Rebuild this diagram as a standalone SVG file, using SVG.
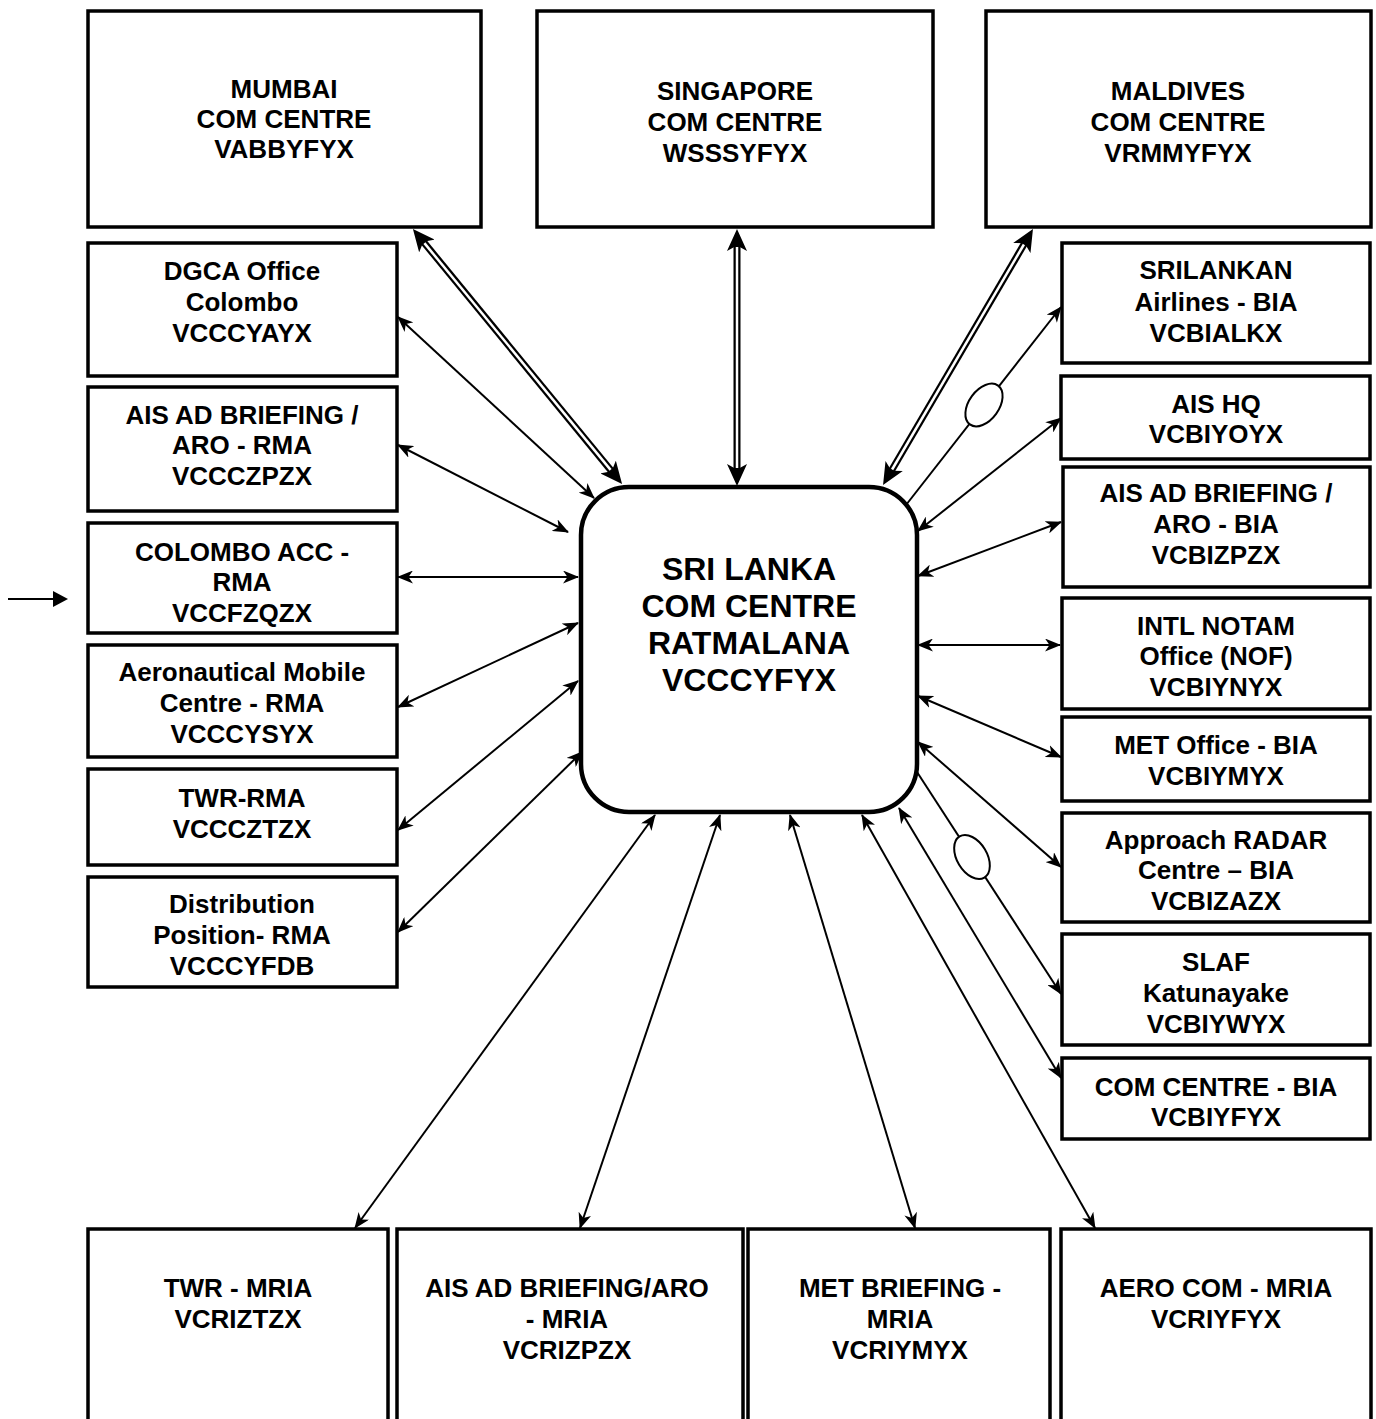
<svg xmlns="http://www.w3.org/2000/svg" width="1376" height="1419" viewBox="0 0 1376 1419">
<style>
.box{fill:#fff;stroke:#000;stroke-width:3.5}
.ctr{fill:#fff;stroke:#000;stroke-width:4.5}
text{font-family:"Liberation Sans",Arial,sans-serif;font-weight:bold;font-size:26px;text-anchor:middle;fill:#000}
.big{font-size:32px}
.ln{fill:none;stroke:#000;stroke-width:2}
.a2{marker-start:url(#ah);marker-end:url(#ah)}
.a1{marker-end:url(#ah)}
.dbl{fill:none;stroke:#000;stroke-width:7;marker-start:url(#dh);marker-end:url(#dh)}
.dblw{fill:none;stroke:#fff;stroke-width:2.5}
.ell{fill:#fff;stroke:#000;stroke-width:2}
</style>
<defs>
<marker id="ah" viewBox="0 0 16 13" refX="15" refY="6.5" markerWidth="16" markerHeight="13" markerUnits="userSpaceOnUse" orient="auto-start-reverse"><path d="M0,0 L16,6.5 L0,13 L4.5,6.5 z" fill="#000"/></marker>
<marker id="dh" viewBox="0 0 22 20" refX="11" refY="10" markerWidth="22" markerHeight="20" markerUnits="userSpaceOnUse" orient="auto-start-reverse"><path d="M0,0 L22,10 L0,20 L5.5,10 z" fill="#000"/></marker>
<marker id="tri" viewBox="0 0 15 16" refX="0" refY="8" markerWidth="15" markerHeight="16" markerUnits="userSpaceOnUse" orient="auto"><path d="M0,0 L15,8 L0,16 z" fill="#000"/></marker>
</defs>
<rect width="1376" height="1419" fill="#fff"/>

<g id="connectors">
<path class="ln a2" d="M594,498 L398,317"/>
<path class="ln a2" d="M568,532 L398,445"/>
<path class="ln a2" d="M578,577 L398,577"/>
<path class="ln a2" d="M578,623 L398,707"/>
<path class="ln a2" d="M578,681 L398,830"/>
<path class="ln a2" d="M582,752 L398,932"/>
<path class="ln a1" d="M906,505 L1061,307"/>
<ellipse class="ell" cx="984" cy="405" rx="15" ry="24" transform="rotate(36 984 405)"/>
<path class="ln a2" d="M918,531 L1061,418"/>
<path class="ln a2" d="M918,576 L1061,522"/>
<path class="ln a2" d="M918,645 L1060,645"/>
<path class="ln a2" d="M918,696 L1061,757"/>
<path class="ln a2" d="M918,742 L1061,867"/>
<path class="ln a1" d="M917,772 L1061,994"/>
<ellipse class="ell" cx="972" cy="857" rx="15" ry="24" transform="rotate(-31 972 857)"/>
<path class="ln a2" d="M899,808 L1061,1078"/>
<path class="ln a2" d="M655,815 L355,1228"/>
<path class="ln a2" d="M720,815 L580,1228"/>
<path class="ln a2" d="M790,815 L915,1228"/>
<path class="ln a2" d="M862,815 L1095,1228"/>
<path class="dbl" d="M615.1,475.5 L419.9,237.5"/>
<path class="dblw" d="M610.6,469.9 L424.4,243.1"/>
<path class="dbl" d="M737,475 L737,240"/>
<path class="dblw" d="M737,468 L737,247"/>
<path class="dbl" d="M888.6,475.5 L1027.4,238.5"/>
<path class="dblw" d="M892.1,469.5 L1023.9,244.5"/>
<path class="ln" d="M8,599 L53,599" marker-end="url(#tri)"/>
</g>

<g id="mumbai"><rect class="box" x="88" y="11" width="393" height="216"/>
<text x="284" y="98">MUMBAI</text><text x="284" y="128">COM CENTRE</text><text x="284" y="158">VABBYFYX</text></g>
<g id="singapore"><rect class="box" x="537" y="11" width="396" height="216"/>
<text x="735" y="100">SINGAPORE</text><text x="735" y="131">COM CENTRE</text><text x="735" y="162">WSSSYFYX</text></g>
<g id="maldives"><rect class="box" x="986" y="11" width="385" height="216"/>
<text x="1178" y="100">MALDIVES</text><text x="1178" y="131">COM CENTRE</text><text x="1178" y="162">VRMMYFYX</text></g>

<g id="dgca"><rect class="box" x="88" y="243" width="309" height="133"/>
<text x="242" y="280">DGCA Office</text><text x="242" y="311">Colombo</text><text x="242" y="342">VCCCYAYX</text></g>
<g id="ais-rma"><rect class="box" x="88" y="387" width="309" height="124"/>
<text x="242" y="424">AIS AD BRIEFING /</text><text x="242" y="454">ARO - RMA</text><text x="242" y="485">VCCCZPZX</text></g>
<g id="acc-rma"><rect class="box" x="88" y="523" width="309" height="110"/>
<text x="242" y="561">COLOMBO ACC -</text><text x="242" y="591">RMA</text><text x="242" y="622">VCCFZQZX</text></g>
<g id="amc-rma"><rect class="box" x="88" y="645" width="309" height="112"/>
<text x="242" y="681">Aeronautical Mobile</text><text x="242" y="712">Centre - RMA</text><text x="242" y="743">VCCCYSYX</text></g>
<g id="twr-rma"><rect class="box" x="88" y="769" width="309" height="96"/>
<text x="242" y="807">TWR-RMA</text><text x="242" y="838">VCCCZTZX</text></g>
<g id="dist-rma"><rect class="box" x="88" y="877" width="309" height="110"/>
<text x="242" y="913">Distribution</text><text x="242" y="944">Position- RMA</text><text x="242" y="975">VCCCYFDB</text></g>

<g id="srilankan"><rect class="box" x="1062" y="243" width="308" height="120"/>
<text x="1216" y="279">SRILANKAN</text><text x="1216" y="311">Airlines - BIA</text><text x="1216" y="342">VCBIALKX</text></g>
<g id="ais-hq"><rect class="box" x="1061" y="376" width="309" height="83"/>
<text x="1216" y="413">AIS HQ</text><text x="1216" y="443">VCBIYOYX</text></g>
<g id="ais-bia"><rect class="box" x="1063" y="467" width="307" height="120"/>
<text x="1216" y="502">AIS AD BRIEFING /</text><text x="1216" y="533">ARO - BIA</text><text x="1216" y="564">VCBIZPZX</text></g>
<g id="nof"><rect class="box" x="1062" y="598" width="308" height="111"/>
<text x="1216" y="635">INTL NOTAM</text><text x="1216" y="665">Office (NOF)</text><text x="1216" y="696">VCBIYNYX</text></g>
<g id="met-bia"><rect class="box" x="1062" y="717" width="308" height="84"/>
<text x="1216" y="754">MET Office - BIA</text><text x="1216" y="785">VCBIYMYX</text></g>
<g id="radar-bia"><rect class="box" x="1062" y="813" width="308" height="109"/>
<text x="1216" y="849">Approach RADAR</text><text x="1216" y="879">Centre – BIA</text><text x="1216" y="910">VCBIZAZX</text></g>
<g id="slaf"><rect class="box" x="1062" y="934" width="308" height="111"/>
<text x="1216" y="971">SLAF</text><text x="1216" y="1002">Katunayake</text><text x="1216" y="1033">VCBIYWYX</text></g>
<g id="com-bia"><rect class="box" x="1062" y="1058" width="308" height="81"/>
<text x="1216" y="1096">COM CENTRE - BIA</text><text x="1216" y="1126">VCBIYFYX</text></g>

<g id="twr-mria"><rect class="box" x="88" y="1229" width="300" height="220"/>
<text x="238" y="1297">TWR - MRIA</text><text x="238" y="1328">VCRIZTZX</text></g>
<g id="ais-mria"><rect class="box" x="397" y="1229" width="346" height="220"/>
<text x="567" y="1297">AIS AD BRIEFING/ARO</text><text x="567" y="1328">- MRIA</text><text x="567" y="1359">VCRIZPZX</text></g>
<g id="met-mria"><rect class="box" x="748" y="1229" width="302" height="220"/>
<text x="900" y="1297">MET BRIEFING -</text><text x="900" y="1328">MRIA</text><text x="900" y="1359">VCRIYMYX</text></g>
<g id="aero-mria"><rect class="box" x="1061" y="1229" width="310" height="220"/>
<text x="1216" y="1297">AERO COM - MRIA</text><text x="1216" y="1328">VCRIYFYX</text></g>

<g id="center"><rect class="ctr" x="581" y="487" width="336" height="325" rx="48" ry="48"/>
<text class="big" x="749" y="580">SRI LANKA</text><text class="big" x="749" y="617">COM CENTRE</text><text class="big" x="749" y="654">RATMALANA</text><text class="big" x="749" y="691">VCCCYFYX</text></g>
</svg>
